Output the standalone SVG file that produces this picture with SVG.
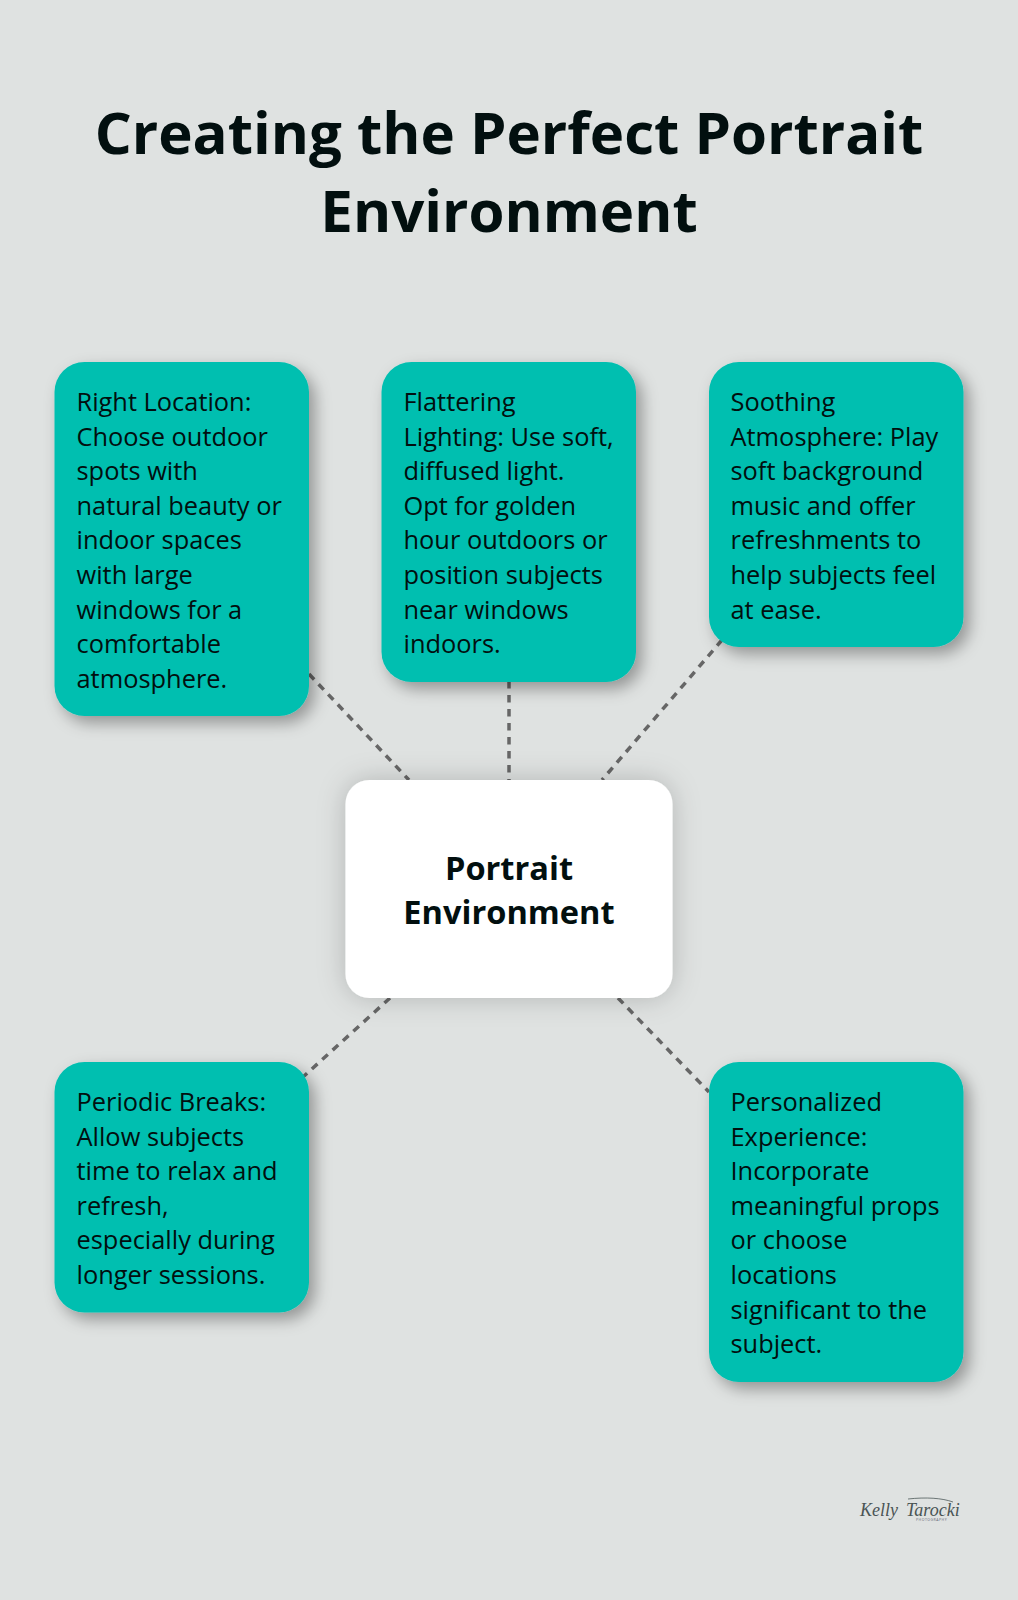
<svg xmlns="http://www.w3.org/2000/svg" width="1018" height="1600" viewBox="0 0 1018 1600">
<defs>
<filter id="sh" x="-30%" y="-30%" width="160%" height="160%"><feDropShadow dx="6" dy="7" stdDeviation="8" flood-color="#000" flood-opacity="0.34"/></filter>
<filter id="shc" x="-30%" y="-30%" width="160%" height="160%"><feDropShadow dx="0" dy="0" stdDeviation="14" flood-color="#000" flood-opacity="0.2"/></filter>
</defs>
<style>
text{font-family:"Open Sans","Noto Sans",sans-serif;fill:#020f0f}
.t{font-size:58.2px;font-weight:700;text-anchor:middle}
.b{font-size:25.4px}
.c{font-size:32.6px;font-weight:700;text-anchor:middle}
.card{fill:#00bfb0;filter:url(#sh)}
.ln{stroke:#666;stroke-width:3.5;stroke-dasharray:7.5 6.5;fill:none}
.sig{font-family:"Liberation Serif",serif;font-style:italic;font-size:18px;fill:#4a5454}
</style>
<rect width="1018" height="1600" fill="#dfe2e1"/>
<g id="title"><text class="t" x="509" y="154">Creating the Perfect Portrait</text><text class="t" x="509" y="232">Environment</text></g>
<g id="connectors">
<path class="ln" d="M309 674L409 780"/>
<path class="ln" d="M509 681V780"/>
<path class="ln" d="M722 640L602 780"/>
<path class="ln" d="M390 998L303 1077"/>
<path class="ln" d="M618 998L709 1092"/>
</g>
<g id="node-center"><rect x="345.500" y="780" width="327" height="218" rx="24" fill="#fff" filter="url(#shc)"/><text class="c" x="509" y="880">Portrait</text><text class="c" x="509" y="923.500">Environment</text></g>
<g id="node-location"><rect class="card" x="54.500" y="362" width="254.500" height="354" rx="30"/>
<text class="b" x="76.500" y="411">Right Location:</text><text class="b" x="76.500" y="445.6">Choose outdoor</text><text class="b" x="76.500" y="480.2">spots with</text><text class="b" x="76.500" y="514.8">natural beauty or</text><text class="b" x="76.500" y="549.4">indoor spaces</text><text class="b" x="76.500" y="584">with large</text><text class="b" x="76.500" y="618.6">windows for a</text><text class="b" x="76.500" y="653.2">comfortable</text><text class="b" x="76.500" y="687.8">atmosphere.</text></g>
<g id="node-lighting"><rect class="card" x="381.500" y="362" width="254.500" height="320" rx="30"/>
<text class="b" x="403.500" y="411">Flattering</text><text class="b" x="403.500" y="445.6">Lighting: Use soft,</text><text class="b" x="403.500" y="480.2">diffused light.</text><text class="b" x="403.500" y="514.8">Opt for golden</text><text class="b" x="403.500" y="549.4">hour outdoors or</text><text class="b" x="403.500" y="584">position subjects</text><text class="b" x="403.500" y="618.6">near windows</text><text class="b" x="403.500" y="653.2">indoors.</text></g>
<g id="node-atmosphere"><rect class="card" x="709" y="362" width="254.500" height="285" rx="30"/>
<text class="b" x="730.500" y="411">Soothing</text><text class="b" x="730.500" y="445.6">Atmosphere: Play</text><text class="b" x="730.500" y="480.2">soft background</text><text class="b" x="730.500" y="514.8">music and offer</text><text class="b" x="730.500" y="549.4">refreshments to</text><text class="b" x="730.500" y="584">help subjects feel</text><text class="b" x="730.500" y="618.6">at ease.</text></g>
<g id="node-breaks"><rect class="card" x="54.500" y="1062" width="254.500" height="250.500" rx="30"/>
<text class="b" x="76.500" y="1111">Periodic Breaks:</text><text class="b" x="76.500" y="1145.6">Allow subjects</text><text class="b" x="76.500" y="1180.2">time to relax and</text><text class="b" x="76.500" y="1214.8">refresh,</text><text class="b" x="76.500" y="1249.4">especially during</text><text class="b" x="76.500" y="1284">longer sessions.</text></g>
<g id="node-personal"><rect class="card" x="709" y="1062" width="254.500" height="320" rx="30"/>
<text class="b" x="730.500" y="1111">Personalized</text><text class="b" x="730.500" y="1145.6">Experience:</text><text class="b" x="730.500" y="1180.2">Incorporate</text><text class="b" x="730.500" y="1214.8">meaningful props</text><text class="b" x="730.500" y="1249.4">or choose</text><text class="b" x="730.500" y="1284">locations</text><text class="b" x="730.500" y="1318.6">significant to the</text><text class="b" x="730.500" y="1353.2">subject.</text></g>
<g id="logo"><path d="M908 1499C926 1497 942 1498 953 1502" fill="none" stroke="#3a4646" stroke-width="0.7"/><text class="sig" x="860" y="1516">Kelly</text><text class="sig" x="906" y="1516">Tarocki</text><text x="916" y="1521" style="font-size:3.500px;fill:#667;letter-spacing:.5px">PHOTOGRAPHY</text></g>
</svg>
